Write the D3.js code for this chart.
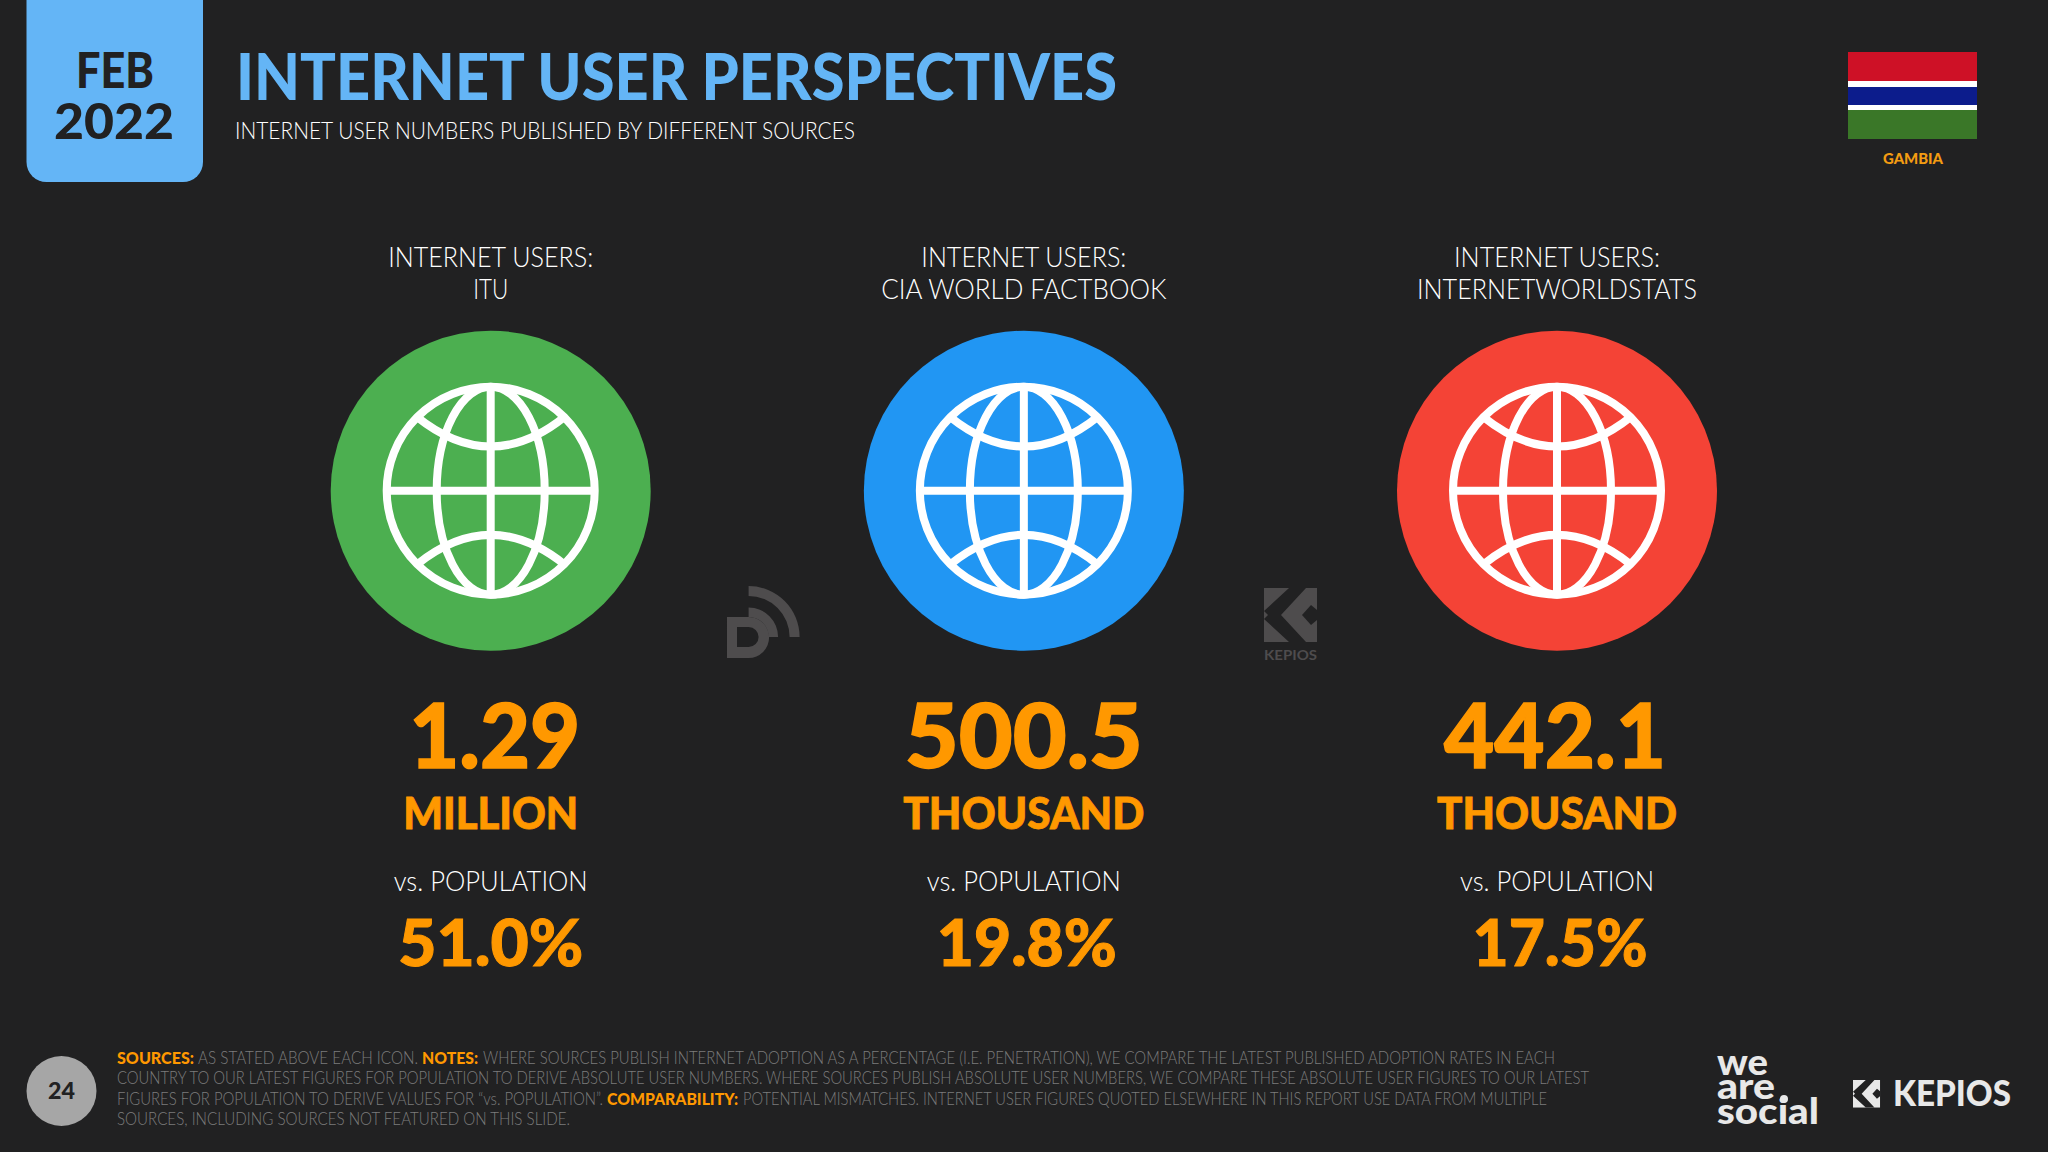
<!DOCTYPE html>
<html><head><meta charset="utf-8">
<style>html,body{margin:0;padding:0;background:#212122}svg{display:block}text{font-family:Lato,"Open Sans",sans-serif}</style>
<script src="https://cdnjs.cloudflare.com/ajax/libs/d3/7.8.5/d3.min.js"></script>
</head><body>
<script>
// ---- chart data ----
const sources = ["ITU", "CIA WORLD FACTBOOK", "INTERNETWORLDSTATS"];
const internetUsers = [1290000, 500500, 442100];
const valueLabels = ["1.29", "500.5", "442.1"];
const unitLabels = ["MILLION", "THOUSAND", "THOUSAND"];
const shareOfPopulation = [51.0, 19.8, 17.5];
const dateLines = ["FEB", "2022"];
const titleText = "INTERNET USER PERSPECTIVES";
const subtitleText = "INTERNET USER NUMBERS PUBLISHED BY DIFFERENT SOURCES";
const headerLine = "INTERNET USERS:";
const versusLabel = "vs. POPULATION";
const countryLabel = "GAMBIA";
const pageLabel = "24";
const flagStripes = ["red", "white", "blue", "white", "green"];
const footnoteRuns = [
 [["SOURCES:",1],[" AS STATED ABOVE EACH ICON.",0],["NOTES:",1],["WHERE SOURCES PUBLISH INTERNET ADOPTION AS A PERCENTAGE (I.E. PENETRATION), WE COMPARE THE LATEST PUBLISHED ADOPTION RATES IN EACH",0]],
 [["COUNTRY TO OUR LATEST FIGURES FOR POPULATION TO DERIVE ABSOLUTE USER NUMBERS. WHERE SOURCES PUBLISH ABSOLUTE USER NUMBERS, WE COMPARE THESE ABSOLUTE USER FIGURES TO OUR LATEST",0]],
 [["FIGURES FOR POPULATION TO DERIVE VALUES FOR “vs. POPULATION”.",0],["COMPARABILITY:",1],["POTENTIAL MISMATCHES. INTERNET USER FIGURES QUOTED ELSEWHERE IN THIS REPORT USE DATA FROM MULTIPLE",0]],
 [["SOURCES, INCLUDING SOURCES NOT FEATURED ON THIS SLIDE.",0]]
];

// ---- layout (kept apart from the data) ----
const BG="#212122", BLUE="#64b5f6", ORANGE="#ff9800", DARK="#212122", MARK="#4e4c4d", PALE="#e8e8e8";
const circleColors=["#4caf50","#2196f3","#f44336"];
const valueW=[171,238,222], valueDx=[4,0,-2], unitW=[175,241,240], versusW=[194,194,194], pctW=[185,180,175], pctDx=[0,3,3];
const head1W=[205,205,206], head2W=[35,285,280];
const footX=[[117,198,422,483],[117],[117,607,743],[117]];
const footW=[[77,220,56,1072],[1472],[486,131,804],[453]];
const footY=d3.scaleLinear().domain([0,3]).range([1064,1125]);

const svg=d3.select("body").append("svg").attr("width",2048).attr("height",1152).attr("viewBox","0 0 2048 1152");
svg.append("rect").attr("width",2048).attr("height",1152).attr("fill",BG);

function label(g,str,x,y,size,weight,fill,width,anchor="middle"){
  const t=g.append("text").attr("x",x).attr("y",y).attr("font-size",size).attr("font-weight",weight)
    .attr("fill",fill).attr("text-anchor",anchor).text(str);
  if(width) t.attr("textLength",width).attr("lengthAdjust","spacingAndGlyphs");
  return t;
}
function kepiosMark(x,y,k,fg){
  const g=svg.append("g").attr("transform",`translate(${x},${y}) scale(${k})`);
  g.append("rect").attr("width",53).attr("height",54).attr("fill",fg);
  g.append("path").attr("fill",BG).attr("d","M25 0H42L17 27L42 54H25L0 31L4 27L0 23Z");
  g.append("path").attr("fill",BG).attr("d","M38 27L47 17L53 22V32L47 37Z");
}

// date tab
svg.append("path").attr("d","M26.5 0H203V162A20 20 0 0 1 183 182H46.5A20 20 0 0 1 26.5 162Z").attr("fill",BLUE);
label(svg,dateLines[0],115,88,48.5,900,DARK,78);
label(svg,dateLines[1],114,139,50,900,DARK,120);

// titles
label(svg,titleText,236,100,64,900,BLUE,881,"start");
label(svg,subtitleText,235,138.5,22.5,300,"#fff",620,"start");

// flag
const flagY=d3.scaleOrdinal().domain(flagStripes.map((d,i)=>i)).range([52,81,87,105,110]);
const flagH=[29,6,18,5,29], flagC={red:"#ce1126",white:"#fff",blue:"#0c1c8c",green:"#3a7728"};
svg.selectAll(".stripe").data(flagStripes).join("rect").attr("class","stripe")
  .attr("x",1848).attr("width",129).attr("y",(d,i)=>flagY(i)).attr("height",(d,i)=>flagH[i]).attr("fill",d=>flagC[d]);
label(svg,countryLabel,1913,164,15.5,900,"#f39c12",60);

// columns
const cx=d3.scalePoint().domain(sources).range([490.7,1557]);
const R=160, r=104, sw=8;
const lat=(s)=>`M${-r*0.71} ${s*r*0.71}Q0 ${s*r*0.14} ${r*0.71} ${s*r*0.71}`;
const cols=svg.selectAll(".col").data(sources).join("g").attr("class","col").attr("transform",d=>`translate(${cx(d)},0)`);
cols.each(function(d,i){
  const g=d3.select(this);
  label(g,headerLine,0,267,28,300,"#fff",head1W[i]);
  label(g,d,0,299,28,300,"#fff",head2W[i]);
  g.append("circle").attr("cy",490.7).attr("r",R).attr("fill",circleColors[i]);
  const gl=g.append("g").attr("transform","translate(0,490.7)").attr("fill","none").attr("stroke","#fff").attr("stroke-width",sw);
  gl.append("circle").attr("r",r);
  gl.append("ellipse").attr("rx",54).attr("ry",r);
  gl.append("line").attr("x1",-r).attr("x2",r);
  gl.append("line").attr("y1",-r).attr("y2",r);
  gl.append("path").attr("d",lat(-1));
  gl.append("path").attr("d",lat(1));
  label(g,valueLabels[i],valueDx[i],768,90,900,ORANGE,valueW[i]).attr("stroke",ORANGE).attr("stroke-width",1.5);
  label(g,unitLabels[i],0,829,43,900,ORANGE,unitW[i]).attr("stroke",ORANGE).attr("stroke-width",0.8);
  label(g,versusLabel,0,891,28,300,"#fff",versusW[i]);
  label(g,d3.format(".1f")(shareOfPopulation[i])+"%",pctDx[i],966,65,900,ORANGE,pctW[i]).attr("stroke",ORANGE).attr("stroke-width",1);
});

// watermark marks
const arc=d3.arc().startAngle(0).endAngle(Math.PI/2);
const dl=svg.append("g").attr("transform","translate(748.6,637)").attr("fill",MARK);
dl.append("path").attr("d",arc({innerRadius:41,outerRadius:51}));
dl.append("path").attr("d",arc({innerRadius:20,outerRadius:29.5}));
dl.append("path").attr("fill-rule","evenodd").attr("d","M-21.6 -20H0A20.5 20.5 0 0 1 0 21H-21.6ZM-11.6 -10V10H0A10 10 0 0 0 0 -10Z");
kepiosMark(1264,588,1,MARK);
label(svg,"KEPIOS",1290.5,660,14,700,MARK,53);

// footer
svg.append("circle").attr("cx",61.5).attr("cy",1091).attr("r",35).attr("fill","#a6a6a6");
label(svg,pageLabel,61.5,1099,22,900,DARK,27);
footnoteRuns.forEach((runs,l)=>runs.forEach((run,k)=>{
  label(svg,run[0].trim(),footX[l][k],footY(l),17.5,run[1]?900:300,run[1]?ORANGE:"#7c7c7c",footW[l][k],"start");
}));
label(svg,"we",1717,1075,36,900,PALE,51,"start");
label(svg,"are",1717,1099,36,900,PALE,58,"start");
svg.append("circle").attr("cx",1784).attr("cy",1099).attr("r",4).attr("fill",PALE);
label(svg,"social",1717,1124,36,900,PALE,102,"start");
kepiosMark(1853,1080,0.51,PALE);
label(svg,"KEPIOS",1893,1106,36,900,PALE,118,"start");
</script>
</body></html>
